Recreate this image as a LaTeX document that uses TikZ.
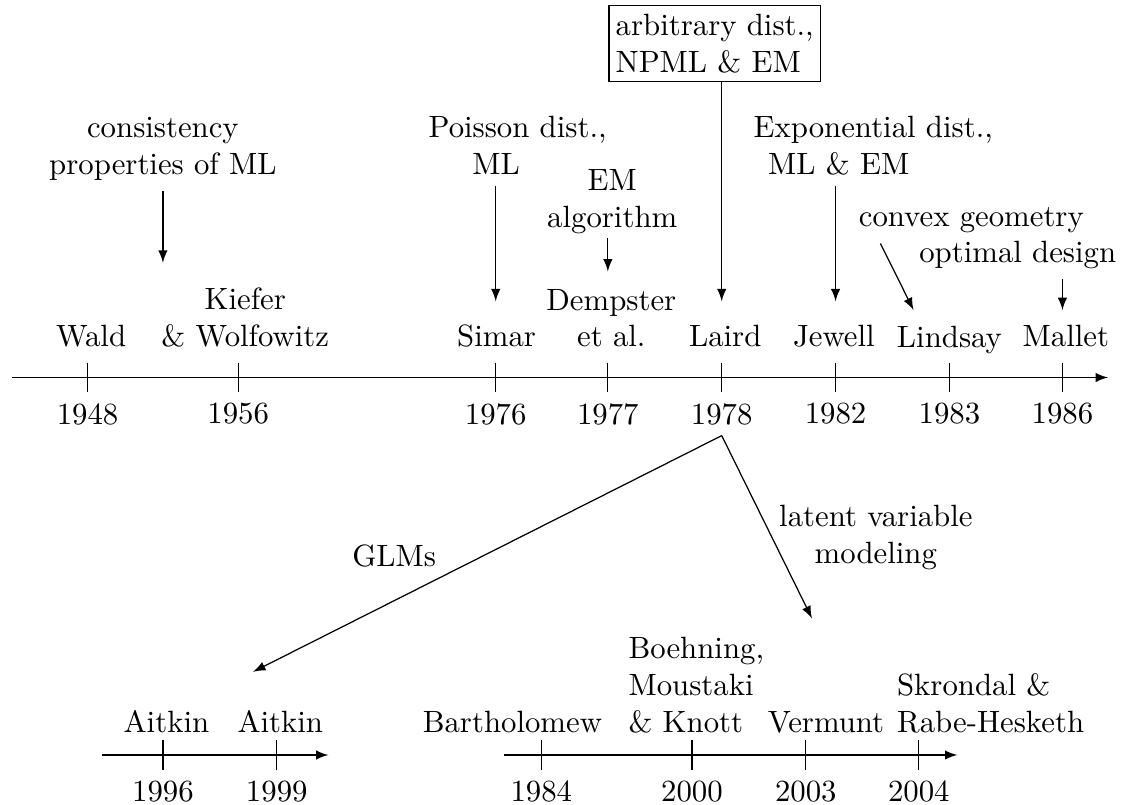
\documentclass[tikz,border=0pt]{standalone}
\begin{document}
\begin{tikzpicture}[>=latex, who/.style={anchor=south}, note/.style={anchor=south, align=center}]
	\useasboundingbox (0,-4.88) rectangle (12.89,4.31);
	%main time line
	\draw [->] (0.14,0) -- (12.65,0);
	\draw (1.00,0.17) -- (1.00,-0.17) node [below] (y1948) {1948};
	\draw (2.72,0.17) -- (2.72,-0.17) node [below] (y1956) {1956};
	\draw (5.66,0.17) -- (5.66,-0.17) node [below] (y1976) {1976};
	\draw (6.94,0.17) -- (6.94,-0.17) node [below] (y1977) {1977};
	\draw (8.24,0.17) -- (8.24,-0.17) node [below] (y1978) {1978};
	\draw (9.54,0.17) -- (9.54,-0.17) node [below] (y1982) {1982};
	\draw (10.84,0.17) -- (10.84,-0.17) node [below] (y1983) {1983};
	\draw (12.13,0.17) -- (12.13,-0.17) node [below] (y1986) {1986};
	\node [who] (wald) at (1.04,0.22) {Wald};
	\node [who, align=center] (kiefer) at (2.80,0.22) {Kiefer\\\& Wolfowitz};
	\node [who] (simar) at (5.67,0.22) {Simar};
	\node [who, align=center] (dempster) at (6.98,0.22) {Dempster\\et al.};
	\node [who] (laird) at (8.28,0.22) {Laird};
	\node [who] (jewell) at (9.52,0.22) {Jewell};
	\node [who, text depth=0pt] (lindsay) at (10.84,0.22) {Lindsay};
	\node [who] (mallet) at (12.17,0.22) {Mallet};
	%what came with them
	\coordinate (consE) at (1.86,1.31);
	\coordinate (simarE) at (5.66,0.87);
	\coordinate (dempE) at (6.94,1.21);
	\coordinate (lairdE) at (8.24,0.87);
	\coordinate (jewE) at (9.54,0.87);
	\coordinate (lindE) at (10.43,0.77);
	\coordinate (malE) at (12.13,0.77);
	\node [note] (cons) at (1.86,2.13) {consistency\\properties of ML};
	\node [note] (pois) at (5.91,2.19) {Poisson dist.,\\ML\hspace*{14pt}};
	\node [note] (emalg) at (6.99,1.52) {EM\\algorithm};
	\node [draw, align=left, anchor=south, inner xsep=2.2pt, inner ysep=2.8pt] (npml) at (8.16,3.37) {arbitrary dist.,\\NPML \& EM};
	\node [note] (expo) at (9.97,2.19) {Exponential dist.,\\ML \& EM\hspace*{22.4pt}};
	\node [note] (convex) at (11.09,1.53) {convex geometry};
	\node [note] (optim) at (11.62,1.12) {optimal design};
	\draw [->] (cons.south -| consE) -- (consE);
	\draw [->] (pois.south -| simarE) -- (simarE);
	\draw [->, shorten <=-2pt] (emalg.south -| dempE) -- (dempE);
	\draw [->] (npml.south -| lairdE) -- (lairdE);
	\draw [->] (expo.south -| jewE) -- (jewE);
	\draw [->] ([xshift=0.37cm]convex.south west) -- (lindE);
	\draw [->] (optim.south -| malE) -- (malE);
	%branches from 1978
	\coordinate (glmE) at (2.89,-3.36);
	\coordinate (latE) at (9.27,-2.75);
	\draw [->] (y1978.south) -- (glmE);
	\draw [->] (y1978.south) -- (latE);
	\node (glm) at (4.50,-2.04) {GLMs};
	\node [align=center] (latent) at (10.00,-1.83) {latent variable\\modeling};
	%GLM time line
	\draw [->] (1.17,-4.31) -- (3.75,-4.31);
	\draw (1.86,-4.14) -- (1.86,-4.48) node [below] (y1996) {1996};
	\draw (3.16,-4.14) -- (3.16,-4.48) node [below] (y1999) {1999};
	\node [who] (aitkinA) at (1.90,-4.18) {Aitkin};
	\node [who] (aitkinB) at (3.20,-4.18) {Aitkin};
	%latent variable time line
	\draw [->] (5.75,-4.31) -- (10.93,-4.31);
	\draw (6.18,-4.14) -- (6.18,-4.48) node [below] (y1984) {1984};
	\draw (7.90,-4.14) -- (7.90,-4.48) node [below] (y2000) {2000};
	\draw (9.20,-4.14) -- (9.20,-4.48) node [below] (y2003) {2003};
	\draw (10.49,-4.14) -- (10.49,-4.48) node [below] (y2004) {2004};
	\node [who] (bartho) at (5.85,-4.18) {Bartholomew};
	\node [who, align=left] (boehning) at (7.95,-4.18) {Boehning,\\Moustaki\\\& Knott};
	\node [who] (vermunt) at (9.43,-4.18) {Vermunt};
	\node [who, align=left] (skrondal) at (11.31,-4.18) {Skrondal \&\\Rabe-Hesketh};
\end{tikzpicture}
\end{document}
